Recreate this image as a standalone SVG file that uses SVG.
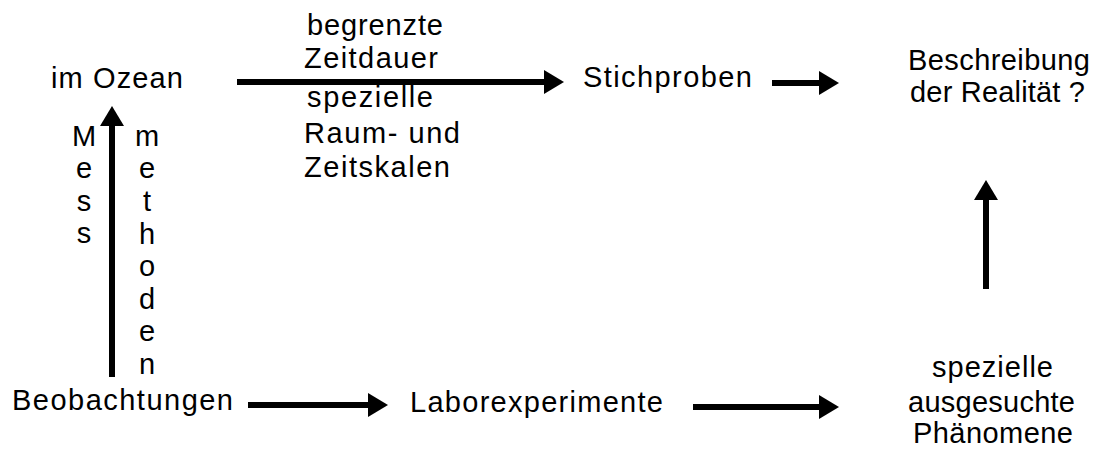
<svg xmlns="http://www.w3.org/2000/svg" width="1094" height="450" viewBox="0 0 1094 450">
<style>
text{font-family:"Liberation Sans",Arial,sans-serif;font-size:29px;fill:#000}
.c{text-anchor:middle}
.ln{stroke:#000;stroke-width:6;fill:none;marker-end:url(#ah)}
</style>
<defs>
<marker id="ah" viewBox="0 0 20 24" markerWidth="20" markerHeight="24" refX="1" refY="12" orient="auto" markerUnits="userSpaceOnUse">
<path d="M0,0 L20,12 L0,24 Z" fill="#000"/>
</marker>
</defs>
<rect width="1094" height="450" fill="#fff"/>
<g id="connectors">
<line class="ln" x1="237" y1="82" x2="545" y2="82"/>
<line class="ln" x1="772" y1="83" x2="820" y2="83"/>
<line class="ln" x1="248" y1="405" x2="369" y2="405"/>
<line class="ln" x1="693" y1="407" x2="820" y2="407"/>
<line class="ln" x1="112" y1="377" x2="112" y2="125"/>
<line class="ln" x1="986" y1="289" x2="986" y2="199"/>
</g>
<g id="ozean"><text x="51" y="88" textLength="132" lengthAdjust="spacing">im Ozean</text></g>
<g id="label-top">
<text x="307" y="35" textLength="136" lengthAdjust="spacing">begrenzte</text>
<text x="304" y="68" textLength="134" lengthAdjust="spacing">Zeitdauer</text>
<text x="307" y="107" textLength="126" lengthAdjust="spacing">spezielle</text>
<text x="304" y="143" textLength="156" lengthAdjust="spacing">Raum- und</text>
<text x="304" y="177" textLength="146" lengthAdjust="spacing">Zeitskalen</text>
</g>
<g id="stichproben"><text x="583" y="87" textLength="169" lengthAdjust="spacing">Stichproben</text></g>
<g id="beschreibung">
<text x="908" y="70" textLength="182" lengthAdjust="spacing">Beschreibung</text>
<text x="910" y="102" textLength="175" lengthAdjust="spacing">der Realität ?</text>
</g>
<g id="label-mess">
<text class="c" x="84" y="146">M</text>
<text class="c" x="84" y="178">e</text>
<text class="c" x="84" y="211">s</text>
<text class="c" x="84" y="243">s</text>
</g>
<g id="label-methoden">
<text class="c" x="147" y="146">m</text>
<text class="c" x="147" y="178">e</text>
<text class="c" x="147" y="211">t</text>
<text class="c" x="147" y="244">h</text>
<text class="c" x="147" y="276">o</text>
<text class="c" x="147" y="309">d</text>
<text class="c" x="147" y="341">e</text>
<text class="c" x="147" y="374">n</text>
</g>
<g id="beobachtungen"><text x="12" y="410" textLength="221" lengthAdjust="spacing">Beobachtungen</text></g>
<g id="laborexperimente"><text x="410" y="412" textLength="253" lengthAdjust="spacing">Laborexperimente</text></g>
<g id="phaenomene">
<text x="932" y="377" textLength="121" lengthAdjust="spacing">spezielle</text>
<text x="908" y="412" textLength="167" lengthAdjust="spacing">ausgesuchte</text>
<text x="913" y="443" textLength="160" lengthAdjust="spacing">Phänomene</text>
</g>
</svg>
